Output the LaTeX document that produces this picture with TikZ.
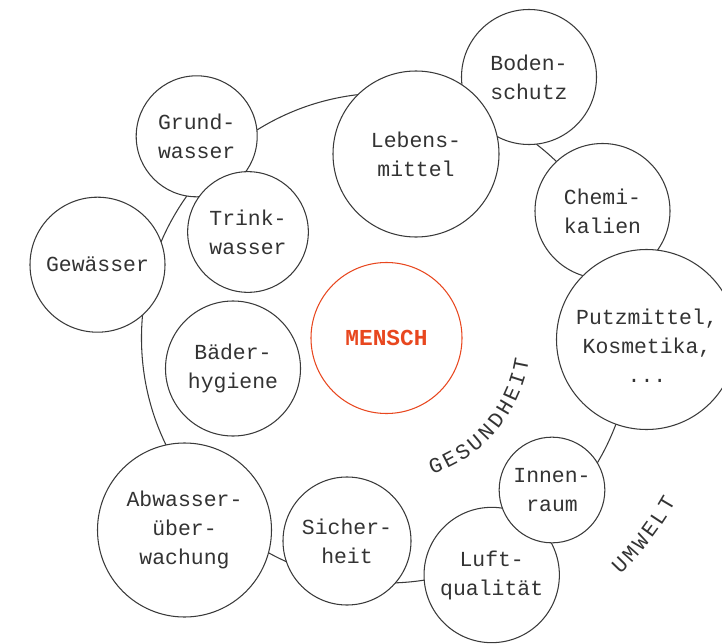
\documentclass[tikz,border=0pt]{standalone}
\usepackage{fontspec}
\newfontfamily\labfont{Liberation Mono}
\definecolor{ink}{HTML}{3A3A3A}
\definecolor{txt}{HTML}{333333}
\definecolor{accent}{HTML}{E8471F}
\begin{document}
\begin{tikzpicture}[x=0.03cm,y=-0.03cm,
  bub/.style={circle,draw=ink,fill=white,line width=0.9pt,inner sep=0pt,align=center,text=txt,
    font={\labfont\fontsize{18.3}{24.7}\selectfont}},
  core/.style={circle,draw=accent,fill=white,line width=0.9pt,inner sep=0pt,text=accent,
    font={\labfont\bfseries\fontsize{19.5}{24}\selectfont}},
  plain/.style={inner sep=0pt,align=center,text=txt,font={\labfont\fontsize{18.3}{24.7}\selectfont}},
  ringline/.style={draw=ink,line width=0.9pt},
  arclet/.style={text=txt,inner sep=0pt,font={\labfont\fontsize{18.3}{22}\selectfont}}]
\path[use as bounding box] (0,0) rectangle (722,644);
\clip (0,0) rectangle (722,644);
\coordinate (c) at (386.5,338);
\draw[ringline] (c) circle[radius=7.35cm];
% outer and inner bubbles
\node[bub,minimum size=4.05cm] (boden) at (529,77) {Boden-\\schutz};
\node[bub,minimum size=4.98cm] (lebens) at (416,154) {Lebens-\\mittel};
\node[bub,minimum size=3.63cm] (grund) at (196.7,136.3) {Grund-\\wasser};
\node[bub,minimum size=3.62cm] (trink) at (248,232) {Trink-\\wasser};
\node[bub,minimum size=4.05cm] (gew) at (97.5,264.7) {Gewässer};
\node[bub,minimum size=4.05cm] (chemi) at (602.5,211) {Chemi-\\kalien};
\node[bub,minimum size=5.4cm] (putz) at (646.5,339.5) {};
\node[plain] (putztext) at (647,346) {Putzmittel,\\Kosmetika,\\...};
\node[bub,minimum size=4.05cm] (baeder) at (233,368.5) {Bäder-\\hygiene};
\node[core,minimum size=4.53cm] (mensch) at (c) {MENSCH};
\node[bub,minimum size=4.06cm] (luft) at (491.7,575) {Luft-\\qualität};
\node[bub,minimum size=3.17cm] (innen) at (552,490) {Innen-\\raum};
\node[bub,minimum size=3.84cm] (sicher) at (347,541) {Sicher-\\heit};
\node[bub,minimum size=5.22cm] (abw) at (184.5,530) {Abwasser-\\über-\\wachung};
% curved labels, one letter at a time
\foreach \ch [count=\i from 0] in {G,E,S,U,N,D,H,E,I,T} {
  \pgfmathsetmacro\ang{69-6.41*\i}
  \node[arclet,rotate=90-\ang] (g\i) at ([shift={(\ang:137)}]c) {\ch};
}
\foreach \ch [count=\i from 0] in {U,M,W,E,L,T} {
  \pgfmathsetmacro\ang{44.2-2.72*\i}
  \node[arclet,rotate=90-\ang] (u\i) at ([shift={(\ang:325.5)}]c) {\ch};
}
\end{tikzpicture}
\end{document}
